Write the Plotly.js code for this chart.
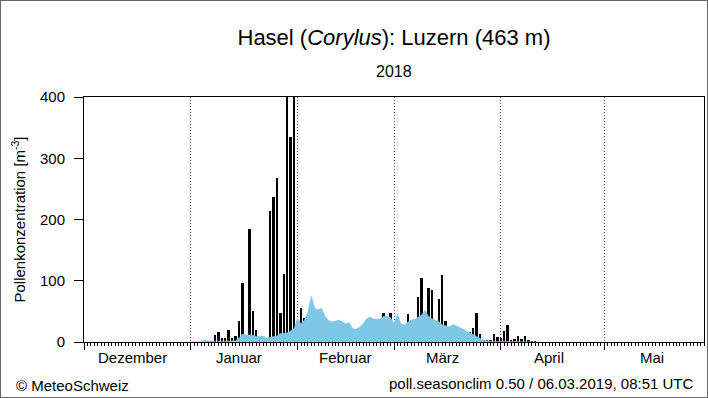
<!DOCTYPE html>
<html><head><meta charset="utf-8">
<script src="https://cdn.plot.ly/plotly-3.0.1.min.js"></script>
<style>
html,body{margin:0;padding:0;background:#fff;}
#wrap{position:relative;width:708px;height:398px;}
#chart{width:708px;height:398px;}
#frame{position:absolute;left:0;top:0;width:706px;height:396px;border:1px solid #666;pointer-events:none;}
</style>
</head><body>
<div id="wrap"><div id="chart"></div><div id="frame"></div></div>
<script>
// First day of the daily series
const seriesStart = '2018-01-01';
// Daily measured hazel pollen concentration (m^-3), from 1 Jan 2018
const pollen = [
  0, 0, 0, 0, 2, 0, 1, 12, 16, 6,
  6, 20, 6, 10, 34, 96, 6, 184, 51, 20,
  5, 3, 6, 214, 236, 267, 48, 111, 520, 335,
  460, 33, 55, 40, 26, 48, 5, 2, 3, 6,
  5, 12, 10, 27, 21, 4, 1, 1, 1, 4,
  18, 25, 21, 6, 14, 27, 48, 20, 48, 20,
  28, 10, 18, 45, 33, 21, 73, 105, 44, 88,
  85, 17, 71, 109, 34, 11, 2, 2, 10, 13,
  4, 17, 23, 48, 13, 4, 4, 3, 13, 8,
  6, 18, 27, 4, 5, 10, 5, 10, 4, 1,
  1
];
// Seasonal climatology (blue area), daily from 1 Jan 2018
const climatology = [
  0, 0, 0, 1, 3, 2, 1, 1, 1, 1,
  1, 1, 1, 2, 6, 13, 12, 12, 11, 9,
  10, 10, 6, 8, 9, 10, 14, 14, 15, 18,
  22, 39, 30, 36, 49, 75, 55, 53, 55, 42,
  35, 33, 35, 36, 33, 30, 32, 22, 21, 24,
  30, 38, 41, 38, 37, 38, 42, 42, 40, 30,
  46, 30, 28, 32, 36, 37, 40, 44, 52, 42,
  38, 36, 33, 28, 27, 25, 28, 27, 24, 21,
  17, 14, 11, 8, 5, 3, 2, 1, 1, 1,
  1, 1, 1, 1, 1, 1, 1, 1, 1, 1,
  1, 0
];
const monthStarts = ['2017-12-01','2018-01-01','2018-02-01','2018-03-01','2018-04-01','2018-05-01'];
const monthLabels = ['Dezember','Januar','Februar','März','April','Mai'];
const monthLabelDates = ['2017-12-15','2018-01-15','2018-02-15','2018-03-15','2018-04-15','2018-05-15'];
const xRange = ['2017-12-01','2018-05-30'];
const yTicks = [0, 100, 200, 300, 400];

const DAY = 86400000;
function dayDates(start, n){
  const t0 = Date.parse(start + 'T00:00:00Z');
  const out = [];
  for(let i=0;i<n;i++){ out.push(new Date(t0 + i*DAY).toISOString().slice(0,10)); }
  return out;
}
const FONT = '"Liberation Sans", Arial, Helvetica, sans-serif';

const traces = [
  {
    type:'scatter', mode:'lines', x: dayDates(seriesStart, climatology.length), y: climatology,
    fill:'tozeroy', fillcolor:'#7ec8e6', line:{color:'#7ec8e6', width:0.5}, hoverinfo:'skip'
  },
  {
    type:'bar', x: dayDates(seriesStart, pollen.length), y: pollen,
    width: 0.72*DAY, marker:{color:'#000', line:{width:0}}
  }
];

const W = 620, H = 245; // plot area size in px (for placing footer text)
const annotations = monthLabels.map((m,k)=>({
  text:m, x:monthLabelDates[k], xref:'x', y:(342-357)/H, yref:'paper',
  xanchor:'center', yanchor:'middle', showarrow:false, font:{family:FONT, size:15, color:'#000'}
}));
annotations.push({text:'2018', x:0.5, xref:'paper', y:(342-71)/H, yref:'paper',
  xanchor:'center', yanchor:'middle', showarrow:false, font:{family:FONT, size:16, color:'#000'}});
annotations.push({text:'© MeteoSchweiz', x:(14-84)/W, xref:'paper', y:(342-385)/H, yref:'paper',
  xanchor:'left', yanchor:'middle', showarrow:false, font:{family:FONT, size:15, color:'#000'}});
annotations.push({text:'poll.seasonclim 0.50 / 06.03.2019, 08:51 UTC', x:(696-84)/W, xref:'paper', y:(342-383)/H, yref:'paper',
  xanchor:'right', yanchor:'middle', showarrow:false, font:{family:FONT, size:15, color:'#000'}});

const layout = {
  width:708, height:398,
  margin:{l:84, r:4, t:97, b:56},
  paper_bgcolor:'#fff', plot_bgcolor:'#fff',
  showlegend:false, bargap:0,
  font:{family:FONT, color:'#000'},
  title:{text:'Hasel (<i>Corylus</i>): Luzern (463 m)', font:{family:FONT, size:22, color:'#000'},
    x:0.5, xref:'paper', y:1-37/398, yref:'container', yanchor:'middle'},
  xaxis:{
    type:'date', range:xRange, tickmode:'array', tickvals:monthStarts, showticklabels:false,
    ticks:'outside', ticklen:7, tickwidth:1, tickcolor:'#000',
    showgrid:true, gridcolor:'#444', griddash:'1px,2px', gridwidth:1,
    showline:true, linecolor:'#000', linewidth:1, mirror:true, zeroline:false,
    minor:{tickmode:'linear', tick0:'2017-12-01', dtick:DAY, ticks:'outside', ticklen:3, tickcolor:'#000', tickwidth:1, showgrid:false},
    fixedrange:true
  },
  yaxis:{
    range:[0,400], tickmode:'array', tickvals:yTicks, ticks:'outside', ticklen:9, tickcolor:'#000', tickwidth:1,
    tickfont:{family:FONT, size:15, color:'#000'}, ticklabelstandoff:6,
    showline:true, linecolor:'#000', linewidth:1, mirror:true, showgrid:false, zeroline:false,
    title:{text:'Pollenkonzentration [m<sup>-3</sup>]', font:{family:FONT, size:15, color:'#000'}, standoff:10},
    fixedrange:true
  },
  annotations:annotations
};
Plotly.newPlot('chart', traces, layout, {staticPlot:true, displayModeBar:false});
</script>
</body></html>
